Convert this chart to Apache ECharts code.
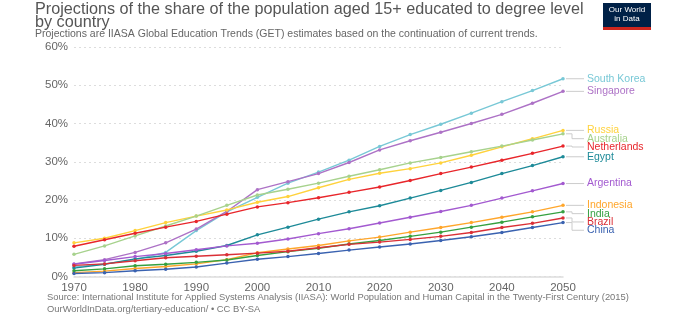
<!DOCTYPE html>
<html><head><meta charset="utf-8">
<script src="https://cdn.jsdelivr.net/npm/echarts@6/dist/echarts.min.js"></script>
<style>html,body{margin:0;padding:0;background:#fff}#c{width:700px;height:321px}</style>
</head><body><div id="c"></div>
<script>
const years = [1970,1975,1980,1985,1990,1995,2000,2005,2010,2015,2020,2025,2030,2035,2040,2045,2050];
const xTicks = [1970,1980,1990,2000,2010,2020,2030,2040,2050];
const yTicks = [0,10,20,30,40,50,60];

const southKorea  = [2.5,3.3,4.4,6.3,12.0,16.9,20.7,24.4,27.3,30.4,34.0,37.1,39.8,42.7,45.7,48.6,51.7];
const singapore   = [3.3,4.4,6.3,8.8,12.4,17.0,22.7,24.8,26.9,29.8,33.1,35.5,37.7,40.0,42.4,45.3,48.4];
const russia      = [8.8,10.0,12.0,14.1,15.8,17.4,19.4,20.9,23.2,25.4,27.0,28.2,29.7,31.7,33.9,36.0,38.2];
const australia   = [5.8,8.0,10.6,13.2,15.8,18.6,21.3,22.8,24.4,26.2,27.9,29.7,31.1,32.6,34.1,35.7,37.3];
const netherlands = [7.9,9.6,11.3,12.9,14.4,16.3,18.2,19.3,20.6,22.0,23.4,25.1,26.9,28.6,30.4,32.2,34.1];
const egypt       = [2.2,3.2,4.6,5.5,6.6,8.1,10.9,12.9,15.0,16.9,18.5,20.5,22.5,24.6,26.9,29.0,31.3];
const argentina   = [3.2,4.2,5.2,6.0,7.0,8.0,8.7,9.8,11.2,12.5,14.0,15.5,17.0,18.6,20.5,22.4,24.3];
const indonesia   = [1.0,1.4,2.1,2.6,3.3,4.4,6.2,7.2,8.1,9.3,10.3,11.6,12.8,14.1,15.5,16.9,18.6];
const india       = [1.5,2.0,2.8,3.2,3.7,4.3,5.5,6.5,7.4,8.5,9.4,10.5,11.6,12.9,14.2,15.6,16.9];
const brazil      = [2.9,3.3,4.1,4.9,5.3,5.7,6.1,6.6,7.5,8.4,9.0,9.7,10.5,11.5,12.8,13.9,15.3];
const china       = [0.8,1.0,1.5,1.9,2.5,3.5,4.5,5.2,6.0,6.9,7.7,8.5,9.4,10.4,11.5,12.8,14.1];

const countries = ['South Korea','Singapore','Russia','Australia','Netherlands','Egypt','Argentina','Indonesia','India','Brazil','China'];
const values = [southKorea,singapore,russia,australia,netherlands,egypt,argentina,indonesia,india,brazil,china];
const colors = ['#78c8d6','#ad72c6','#ffd23c','#a7d28d','#e8262b','#1d8a98','#a35ad0','#ffa62b','#35a040','#da2f36','#3a62b0'];

const FONT = 'Liberation Sans, Arial, sans-serif';
const GRID = {left:74, right:137, top:47, bottom:44.5};

const chart = echarts.init(document.getElementById('c'), null, {renderer:'canvas'});

const series = countries.map((name,i)=>({
  name, type:'line', color: colors[i],
  data: years.map((y,j)=>[y, values[i][j]]),
  symbol:'circle', symbolSize:3.5, showSymbol:true,
  lineStyle:{width:1.4, color: colors[i]},
  itemStyle:{color: colors[i]},
  z: 3
}));

chart.setOption({
  animation:false,
  textStyle:{fontFamily:FONT},
  grid: GRID,
  xAxis:{type:'value', min:1970, max:2050, interval:10,
    axisLine:{show:true, lineStyle:{color:'#ddd', width:1.5}},
    axisTick:{show:false}, splitLine:{show:false},
    axisLabel:{color:'#666', fontSize:11.5, margin:5, fontFamily:FONT,
      formatter:v=> xTicks.includes(v) ? String(v) : ''}},
  yAxis:{type:'value', min:0, max:60, interval:10,
    axisLine:{show:false}, axisTick:{show:false},
    splitLine:{show:true, lineStyle:{color:'#ddd', type:[2,3], width:1}},
    axisLabel:{color:'#666', fontSize:11.5, margin:6, fontFamily:FONT,
      formatter:v=> yTicks.includes(v) ? v + '%' : ''}},
  series
});

// labels at the right with connector lines
const ends = countries.map((name,i)=>{
  const p = chart.convertToPixel({gridIndex:0}, [years[years.length-1], values[i][values[i].length-1]]);
  return {name, color:colors[i], x:p[0], y:p[1]};
});
const order = ends.map((e,i)=>i).sort((a,b)=>ends[a].y-ends[b].y);
const gap = 8.3;
let last = -1e9;
order.forEach(i=>{ const ly = Math.max(ends[i].y, last+gap); ends[i].ly = ly; last = ly; });

const graphics = [];
ends.forEach(e=>{
  const x0 = e.x + 3, xe = e.x + 9, x1 = e.x + 21;
  const pts = Math.abs(e.ly - e.y) < 0.5 ? [[x0,e.y],[x1,e.y]] : [[x0,e.y],[xe,e.y],[xe,e.ly],[x1,e.ly]];
  graphics.push({type:'polyline', shape:{points:pts}, style:{stroke:'#ccc', lineWidth:1, fill:null}, silent:true});
  graphics.push({type:'text', x:x1+3, y:e.ly, style:{text:e.name, fill:e.color, font:'10.5px '+FONT, textVerticalAlign:'middle', textBaseline:'middle'}});
});

// titles & footer
graphics.push({type:'text', left:35, top:2, style:{text:'Projections of the share of the population aged 15+ educated to degree level', fill:'#555', font:'16.2px '+FONT}});
graphics.push({type:'text', left:35, top:14.5, style:{text:'by country', fill:'#555', font:'16.2px '+FONT}});
graphics.push({type:'text', left:35, top:29, style:{text:'Projections are IIASA Global Education Trends (GET) estimates based on the continuation of current trends.', fill:'#666', font:'10.5px '+FONT}});
graphics.push({type:'text', left:47, top:293, style:{text:'Source: International Institute for Applied Systems Analysis (IIASA): World Population and Human Capital in the Twenty-First Century (2015)', fill:'#777', font:'9.4px '+FONT}});
graphics.push({type:'text', left:47, top:304.5, style:{text:'OurWorldInData.org/tertiary-education/ \u2022 CC BY-SA', fill:'#777', font:'9.4px '+FONT}});
// logo
graphics.push({type:'group', left:603, top:3, children:[
  {type:'rect', shape:{x:0,y:0,width:48,height:27}, style:{fill:'#002147'}},
  {type:'rect', shape:{x:0,y:24,width:48,height:3}, style:{fill:'#ce261e'}},
  {type:'text', x:24, y:7, style:{text:'Our World', fill:'#fff', font:'8px '+FONT, textAlign:'center', textVerticalAlign:'middle'}},
  {type:'text', x:24, y:16, style:{text:'in Data', fill:'#fff', font:'8px '+FONT, textAlign:'center', textVerticalAlign:'middle'}}
]});

chart.setOption({graphic: graphics});
</script>
</body></html>
